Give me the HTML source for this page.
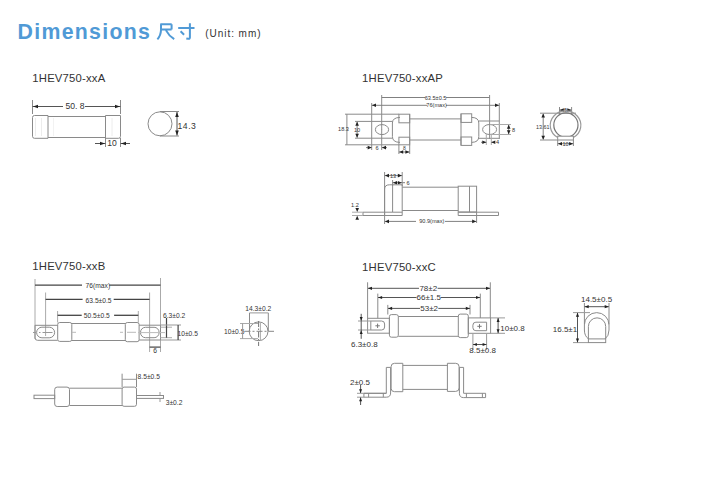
<!DOCTYPE html>
<html><head><meta charset="utf-8"><style>
html,body{margin:0;padding:0;background:#fff;width:723px;height:495px;overflow:hidden}
svg{display:block}
text{font-family:"Liberation Sans",sans-serif}
</style></head><body>
<svg width="723" height="495" viewBox="0 0 723 495">
<text x="17.5" y="39" font-size="21.3" fill="#509ad6" text-anchor="start" font-weight="bold" letter-spacing="1.3">Dimensions</text>
<text x="205.3" y="36.6" font-size="10" fill="#333" text-anchor="start" letter-spacing="0.95">(Unit: mm)</text>
<text x="32.3" y="81.8" font-size="11.3" fill="#333" text-anchor="start" letter-spacing="0.2">1HEV750-xxA</text>
<text x="362.1" y="82.1" font-size="11.3" fill="#333" text-anchor="start" letter-spacing="0.2">1HEV750-xxAP</text>
<text x="32.3" y="269.8" font-size="11.3" fill="#333" text-anchor="start" letter-spacing="0.2">1HEV750-xxB</text>
<text x="362.1" y="270.8" font-size="11.3" fill="#333" text-anchor="start" letter-spacing="0.2">1HEV750-xxC</text>
<path d="M160.3 24.3 H171.7 M161 24.3 V30 Q160.8 35.5 157.4 39.3 M171.6 24.3 V29.4 M161 29.4 H171.6 M166 30.4 Q169 36 174.2 39.2" stroke="#509ad6" stroke-width="2" fill="none"/>
<path d="M178.2 28 H194.5 M189.9 23.2 V37.6 Q189.9 39 188.2 38.8 L186.3 38.4 M180.6 31.2 L184.1 34.7" stroke="#509ad6" stroke-width="2" fill="none"/>
<line x1="32.5" y1="100" x2="32.5" y2="114" stroke="#8a8a8a" stroke-width="1"/>
<line x1="120.5" y1="100" x2="120.5" y2="114" stroke="#8a8a8a" stroke-width="1"/>
<line x1="32.5" y1="106.5" x2="63" y2="106.5" stroke="#555" stroke-width="1"/>
<line x1="85" y1="106.5" x2="120.5" y2="106.5" stroke="#555" stroke-width="1"/>
<polygon points="33.00,106.50 38.00,104.70 38.00,108.30" fill="#222"/>
<polygon points="120.00,106.50 115.00,104.70 115.00,108.30" fill="#222"/>
<text x="65.5" y="109.2" font-size="8.6" fill="#333" text-anchor="start" >50. 8</text>
<path d="M48 115.5 H34.5 Q32.5 115.5 32.5 117.5 V136.3 Q32.5 138.3 34.5 138.3 H48 Z" stroke="#8a8a8a" stroke-width="1" fill="none"/>
<line x1="48" y1="116.5" x2="105.5" y2="116.5" stroke="#8a8a8a" stroke-width="1"/>
<line x1="48" y1="137.5" x2="105.5" y2="137.5" stroke="#8a8a8a" stroke-width="1"/>
<path d="M105.5 115.5 H120.5 V136.3 Q120.5 138.3 118.5 138.3 H105.5 Z" stroke="#8a8a8a" stroke-width="1" fill="none"/>
<line x1="35.5" y1="118" x2="35.5" y2="136" stroke="#ececec" stroke-width="1"/>
<line x1="41.5" y1="118" x2="41.5" y2="136" stroke="#ececec" stroke-width="1"/>
<line x1="53.5" y1="118" x2="53.5" y2="136" stroke="#f2f2f2" stroke-width="1"/>
<line x1="112" y1="118" x2="112" y2="136" stroke="#ececec" stroke-width="1"/>
<line x1="105.5" y1="138" x2="105.5" y2="147" stroke="#8a8a8a" stroke-width="1"/>
<line x1="120.5" y1="138" x2="120.5" y2="147" stroke="#8a8a8a" stroke-width="1"/>
<line x1="95" y1="143.5" x2="105.5" y2="143.5" stroke="#555" stroke-width="1"/>
<line x1="120.5" y1="143.5" x2="130" y2="143.5" stroke="#555" stroke-width="1"/>
<polygon points="105.00,143.50 100.00,141.70 100.00,145.30" fill="#222"/>
<polygon points="121.00,143.50 126.00,141.70 126.00,145.30" fill="#222"/>
<text x="107.3" y="146.2" font-size="8.6" fill="#333" text-anchor="start" >10</text>
<circle cx="160" cy="123.8" r="12" stroke="#8a8a8a" stroke-width="1" fill="none"/>
<line x1="160" y1="111.5" x2="179" y2="111.5" stroke="#8a8a8a" stroke-width="1"/>
<line x1="160" y1="136" x2="179" y2="136" stroke="#8a8a8a" stroke-width="1"/>
<line x1="177" y1="112" x2="177" y2="135.5" stroke="#555" stroke-width="1"/>
<polygon points="177.00,112.00 175.20,117.00 178.80,117.00" fill="#222"/>
<polygon points="177.00,135.50 175.20,130.50 178.80,130.50" fill="#222"/>
<text x="177.6" y="129" font-size="8.6" fill="#333" text-anchor="start" letter-spacing="0.5">14.3</text>
<line x1="381.7" y1="95" x2="381.7" y2="130" stroke="#8a8a8a" stroke-width="1"/>
<line x1="489.6" y1="95" x2="489.6" y2="130" stroke="#8a8a8a" stroke-width="1"/>
<line x1="381.7" y1="97.5" x2="425" y2="97.5" stroke="#808080" stroke-width="1"/>
<line x1="446" y1="97.5" x2="489.6" y2="97.5" stroke="#808080" stroke-width="1"/>
<text x="435.6" y="99.6" font-size="5.6" fill="#333" text-anchor="middle" >63.5±0.5</text>
<line x1="371.7" y1="103" x2="371.7" y2="150" stroke="#8a8a8a" stroke-width="1"/>
<line x1="499.3" y1="103" x2="499.3" y2="139" stroke="#8a8a8a" stroke-width="1"/>
<line x1="371.7" y1="105.3" x2="427" y2="105.3" stroke="#808080" stroke-width="1"/>
<line x1="446" y1="105.3" x2="499.3" y2="105.3" stroke="#808080" stroke-width="1"/>
<polygon points="372.00,105.30 376.00,103.50 376.00,107.10" fill="#222"/>
<polygon points="499.00,105.30 495.00,103.50 495.00,107.10" fill="#222"/>
<text x="436.6" y="107.4" font-size="5.6" fill="#333" text-anchor="middle" >76(max)</text>
<line x1="345" y1="114.2" x2="398.9" y2="114.2" stroke="#8a8a8a" stroke-width="1"/>
<line x1="345" y1="144.8" x2="398.9" y2="144.8" stroke="#8a8a8a" stroke-width="1"/>
<line x1="346.9" y1="114.2" x2="346.9" y2="144.8" stroke="#8a8a8a" stroke-width="1"/>
<text x="343.5" y="130.8" font-size="5.6" fill="#333" text-anchor="middle" >18.3</text>
<line x1="355" y1="121.4" x2="392.4" y2="121.4" stroke="#8a8a8a" stroke-width="1"/>
<line x1="355" y1="138.2" x2="392.4" y2="138.2" stroke="#8a8a8a" stroke-width="1"/>
<line x1="357.1" y1="122" x2="357.1" y2="137.6" stroke="#808080" stroke-width="1"/>
<polygon points="357.10,121.80 355.30,125.80 358.90,125.80" fill="#222"/>
<polygon points="357.10,137.80 355.30,133.80 358.90,133.80" fill="#222"/>
<text x="357" y="132" font-size="5.6" fill="#333" text-anchor="middle" >10</text>
<ellipse cx="382" cy="129.6" rx="6.6" ry="5" stroke="#8a8a8a" stroke-width="1" fill="none"/>
<line x1="381.7" y1="129.6" x2="381.7" y2="150" stroke="#8a8a8a" stroke-width="1"/>
<path d="M400 117.4 Q392.4 117.6 392.4 123 V136.5 Q392.4 142.3 400 142.4" stroke="#8a8a8a" stroke-width="1" fill="none"/>
<rect x="398.9" y="114.2" width="10.8" height="8.6" rx="0" stroke="#8a8a8a" stroke-width="1" fill="none"/>
<rect x="398.9" y="137.2" width="10.8" height="7.6" rx="0" stroke="#8a8a8a" stroke-width="1" fill="none"/>
<line x1="409.7" y1="118.9" x2="461" y2="118.9" stroke="#8a8a8a" stroke-width="1"/>
<line x1="409.7" y1="140" x2="461" y2="140" stroke="#8a8a8a" stroke-width="1"/>
<line x1="409.7" y1="114.2" x2="409.7" y2="144.8" stroke="#8a8a8a" stroke-width="1"/>
<line x1="461" y1="113.8" x2="461" y2="145.2" stroke="#8a8a8a" stroke-width="1"/>
<rect x="461" y="113.8" width="10.7" height="8.6" rx="0" stroke="#8a8a8a" stroke-width="1" fill="none"/>
<rect x="461" y="137" width="10.7" height="8.4" rx="0" stroke="#8a8a8a" stroke-width="1" fill="none"/>
<path d="M471.7 117.4 Q478.8 117.6 478.8 123 V136.5 Q478.8 142.3 471.7 142.4" stroke="#8a8a8a" stroke-width="1" fill="none"/>
<line x1="478.8" y1="121" x2="499.3" y2="121" stroke="#8a8a8a" stroke-width="1"/>
<line x1="478.8" y1="138.3" x2="499.3" y2="138.3" stroke="#8a8a8a" stroke-width="1"/>
<ellipse cx="489.6" cy="129.5" rx="7" ry="5" stroke="#8a8a8a" stroke-width="1" fill="none"/>
<line x1="489.6" y1="129.5" x2="489.6" y2="139" stroke="#8a8a8a" stroke-width="1"/>
<line x1="490" y1="124.5" x2="511" y2="124.5" stroke="#aaa" stroke-width="1"/>
<line x1="490" y1="134.5" x2="511" y2="134.5" stroke="#aaa" stroke-width="1"/>
<line x1="508.7" y1="125" x2="508.7" y2="134" stroke="#808080" stroke-width="1"/>
<polygon points="508.70,124.80 506.90,128.80 510.50,128.80" fill="#222"/>
<polygon points="508.70,134.20 506.90,130.20 510.50,130.20" fill="#222"/>
<text x="513.5" y="131.5" font-size="5.6" fill="#333" text-anchor="middle" >8</text>
<line x1="486.3" y1="134" x2="486.3" y2="145" stroke="#aaa" stroke-width="1"/>
<line x1="491.3" y1="134" x2="491.3" y2="145" stroke="#aaa" stroke-width="1"/>
<line x1="481" y1="142.3" x2="486.3" y2="142.3" stroke="#808080" stroke-width="1"/>
<line x1="491.3" y1="142.3" x2="495" y2="142.3" stroke="#808080" stroke-width="1"/>
<polygon points="486.30,142.30 482.30,140.50 482.30,144.10" fill="#222"/>
<polygon points="491.30,142.30 495.30,140.50 495.30,144.10" fill="#222"/>
<text x="497.5" y="144.3" font-size="5.6" fill="#333" text-anchor="middle" >4</text>
<line x1="366" y1="147.6" x2="371.7" y2="147.6" stroke="#808080" stroke-width="1"/>
<line x1="382" y1="147.6" x2="387" y2="147.6" stroke="#808080" stroke-width="1"/>
<polygon points="371.70,147.60 367.70,145.80 367.70,149.40" fill="#222"/>
<polygon points="382.00,147.60 386.00,145.80 386.00,149.40" fill="#222"/>
<text x="377" y="149.6" font-size="5.6" fill="#333" text-anchor="middle" >6</text>
<line x1="398.9" y1="145" x2="398.9" y2="154" stroke="#8a8a8a" stroke-width="1"/>
<line x1="409.7" y1="145" x2="409.7" y2="154" stroke="#8a8a8a" stroke-width="1"/>
<line x1="398.9" y1="152" x2="409.7" y2="152" stroke="#808080" stroke-width="1"/>
<polygon points="399.20,152.00 403.20,150.20 403.20,153.80" fill="#222"/>
<polygon points="409.40,152.00 405.40,150.20 405.40,153.80" fill="#222"/>
<text x="404.3" y="150.3" font-size="5" fill="#333" text-anchor="middle" >8</text>
<line x1="540" y1="113.2" x2="576" y2="113.2" stroke="#8a8a8a" stroke-width="1"/>
<line x1="540" y1="140" x2="557.7" y2="140" stroke="#8a8a8a" stroke-width="1"/>
<line x1="543.2" y1="114" x2="543.2" y2="139.2" stroke="#808080" stroke-width="1"/>
<polygon points="543.20,113.50 541.40,117.50 545.00,117.50" fill="#222"/>
<polygon points="543.20,139.70 541.40,135.70 545.00,135.70" fill="#222"/>
<text x="542.8" y="128.6" font-size="5.4" fill="#333" text-anchor="middle" >13.61</text>
<line x1="559.5" y1="107" x2="559.5" y2="114" stroke="#8a8a8a" stroke-width="1"/>
<line x1="571.6" y1="107" x2="571.6" y2="114" stroke="#8a8a8a" stroke-width="1"/>
<line x1="559.5" y1="110.1" x2="571.6" y2="110.1" stroke="#808080" stroke-width="1"/>
<polygon points="559.80,110.10 563.80,108.30 563.80,111.90" fill="#222"/>
<polygon points="571.30,110.10 567.30,108.30 567.30,111.90" fill="#222"/>
<text x="565.5" y="112.2" font-size="5.6" fill="#333" text-anchor="middle" >5</text>
<path d="M557.7 137.5 A15.3 14.3 0 1 1 573.4 137.5" stroke="#999" stroke-width="1.2" fill="none"/>
<circle cx="565.9" cy="125" r="12.1" stroke="#777" stroke-width="1.2" fill="none"/>
<rect x="557.7" y="136.2" width="15.7" height="3.8" rx="0" stroke="#8a8a8a" stroke-width="1" fill="#fff"/>
<line x1="557.7" y1="140" x2="557.7" y2="146" stroke="#8a8a8a" stroke-width="1"/>
<line x1="573.4" y1="140" x2="573.4" y2="146" stroke="#8a8a8a" stroke-width="1"/>
<line x1="557.7" y1="143.7" x2="573.4" y2="143.7" stroke="#808080" stroke-width="1"/>
<polygon points="558.00,143.70 562.00,141.90 562.00,145.50" fill="#222"/>
<polygon points="573.10,143.70 569.10,141.90 569.10,145.50" fill="#222"/>
<text x="565.5" y="145.8" font-size="5.6" fill="#333" text-anchor="middle" >10</text>
<line x1="384.6" y1="172" x2="384.6" y2="224" stroke="#8a8a8a" stroke-width="1"/>
<line x1="402.2" y1="172" x2="402.2" y2="186" stroke="#8a8a8a" stroke-width="1"/>
<line x1="392.6" y1="180" x2="392.6" y2="186" stroke="#8a8a8a" stroke-width="1"/>
<line x1="384.6" y1="175.6" x2="402.2" y2="175.6" stroke="#808080" stroke-width="1"/>
<polygon points="385.00,175.60 389.00,173.80 389.00,177.40" fill="#222"/>
<polygon points="401.80,175.60 397.80,173.80 397.80,177.40" fill="#222"/>
<text x="393" y="177.8" font-size="5.6" fill="#333" text-anchor="middle" >13</text>
<line x1="392.6" y1="182.7" x2="402.2" y2="182.7" stroke="#808080" stroke-width="1"/>
<polygon points="393.00,182.70 397.00,180.90 397.00,184.50" fill="#222"/>
<polygon points="401.80,182.70 397.80,180.90 397.80,184.50" fill="#222"/>
<line x1="402.2" y1="182.7" x2="405" y2="182.7" stroke="#808080" stroke-width="1"/>
<text x="408" y="184.8" font-size="5.6" fill="#333" text-anchor="middle" >6</text>
<path d="M384.6 215.5 V189 Q384.6 184.8 389.5 184.8 H402.2 V215.5" stroke="#8a8a8a" stroke-width="1" fill="none"/>
<line x1="392.6" y1="184.8" x2="392.6" y2="212" stroke="#8a8a8a" stroke-width="1"/>
<line x1="402.2" y1="187.2" x2="458.2" y2="187.2" stroke="#8a8a8a" stroke-width="1"/>
<line x1="402.2" y1="210.5" x2="458.2" y2="210.5" stroke="#8a8a8a" stroke-width="1"/>
<rect x="458.2" y="186.2" width="18.4" height="25.8" rx="0" stroke="#8a8a8a" stroke-width="1" fill="none"/>
<line x1="469.5" y1="186.2" x2="469.5" y2="212" stroke="#8a8a8a" stroke-width="1"/>
<path d="M363 212.2 H402.2 M363 215.5 H402.2 M363 212.2 V215.5" stroke="#8a8a8a" stroke-width="1" fill="none"/>
<path d="M458.2 212.2 H498.5 V215.5 H458.2 Z" stroke="#8a8a8a" stroke-width="1" fill="none"/>
<line x1="476.6" y1="212" x2="476.6" y2="223" stroke="#8a8a8a" stroke-width="1"/>
<line x1="352" y1="212.2" x2="363" y2="212.2" stroke="#aaa" stroke-width="1"/>
<line x1="352" y1="215.5" x2="363" y2="215.5" stroke="#aaa" stroke-width="1"/>
<polygon points="357.20,211.90 355.40,207.90 359.00,207.90" fill="#222"/>
<polygon points="357.20,215.80 355.40,219.80 359.00,219.80" fill="#222"/>
<text x="355" y="206.7" font-size="5.6" fill="#333" text-anchor="middle" >1.2</text>
<line x1="384.6" y1="221.4" x2="416" y2="221.4" stroke="#808080" stroke-width="1"/>
<line x1="445" y1="221.4" x2="476.6" y2="221.4" stroke="#808080" stroke-width="1"/>
<polygon points="385.00,221.40 389.00,219.60 389.00,223.20" fill="#222"/>
<polygon points="476.20,221.40 472.20,219.60 472.20,223.20" fill="#222"/>
<text x="431.8" y="223.4" font-size="5.6" fill="#333" text-anchor="middle" >90.9(max)</text>
<line x1="35" y1="279" x2="35" y2="339" stroke="#aaa" stroke-width="1"/>
<line x1="160.5" y1="278" x2="160.5" y2="352" stroke="#aaa" stroke-width="1"/>
<line x1="35" y1="285.2" x2="82" y2="285.2" stroke="#444" stroke-width="1.3"/>
<line x1="109.3" y1="285.2" x2="160.5" y2="285.2" stroke="#444" stroke-width="1.3"/>
<text x="85.6" y="287.8" font-size="6.7" fill="#333" text-anchor="start" >76(max)</text>
<line x1="45.6" y1="292.5" x2="45.6" y2="336" stroke="#aaa" stroke-width="1"/>
<line x1="149.6" y1="292.5" x2="149.6" y2="352" stroke="#aaa" stroke-width="1"/>
<line x1="45.6" y1="299.3" x2="82.6" y2="299.3" stroke="#444" stroke-width="1.3"/>
<line x1="113.7" y1="299.3" x2="149.6" y2="299.3" stroke="#444" stroke-width="1.3"/>
<text x="85.6" y="302.9" font-size="6.7" fill="#333" text-anchor="start" >63.5±0.5</text>
<line x1="57.6" y1="311" x2="57.6" y2="322.5" stroke="#aaa" stroke-width="1"/>
<line x1="138.3" y1="311" x2="138.3" y2="322.5" stroke="#aaa" stroke-width="1"/>
<line x1="57.6" y1="315.3" x2="81.7" y2="315.3" stroke="#444" stroke-width="1.3"/>
<line x1="114.1" y1="315.3" x2="138.3" y2="315.3" stroke="#444" stroke-width="1.3"/>
<text x="83.8" y="318" font-size="6.7" fill="#333" text-anchor="start" >50.5±0.5</text>
<path d="M57.6 325.3 H35 V337.8 Q35 340.3 37.5 340.3 H57.6" stroke="#8a8a8a" stroke-width="1" fill="none"/>
<rect x="36.6" y="327.2" width="18" height="10.6" rx="5.3" stroke="#8a8a8a" stroke-width="1" fill="none"/>
<line x1="33" y1="332.5" x2="54" y2="332.5" stroke="#999" stroke-dasharray="3 3 1.5 2 10 2"/>
<rect x="57.7" y="322.5" width="14.1" height="18.9" rx="2" stroke="#8a8a8a" stroke-width="1" fill="none"/>
<line x1="71.8" y1="323.5" x2="125.3" y2="323.5" stroke="#8a8a8a" stroke-width="1"/>
<line x1="71.8" y1="340.5" x2="125.3" y2="340.5" stroke="#8a8a8a" stroke-width="1"/>
<rect x="125.3" y="322.5" width="13.8" height="19.2" rx="2" stroke="#8a8a8a" stroke-width="1" fill="none"/>
<line x1="72" y1="332.3" x2="76" y2="332.3" stroke="#bbb" stroke-width="1"/>
<line x1="120" y1="332.3" x2="123" y2="332.3" stroke="#bbb" stroke-width="1"/>
<line x1="127" y1="332.3" x2="136" y2="332.3" stroke="#bbb" stroke-width="1"/>
<path d="M139.1 325.2 H160.5 V340 H139.1" stroke="#8a8a8a" stroke-width="1" fill="none"/>
<rect x="140.5" y="327.3" width="18.6" height="10.4" rx="5" stroke="#8a8a8a" stroke-width="1" fill="none"/>
<line x1="138" y1="332.6" x2="165" y2="332.6" stroke="#bbb" stroke-width="1"/>
<line x1="160.5" y1="327.2" x2="172" y2="327.2" stroke="#aaa" stroke-width="1"/>
<line x1="160.5" y1="337.7" x2="172" y2="337.7" stroke="#aaa" stroke-width="1"/>
<line x1="166.5" y1="318" x2="166.5" y2="337.7" stroke="#444" stroke-width="1.2"/>
<text x="163" y="318" font-size="6.7" fill="#333" text-anchor="start" >6.3±0.2</text>
<line x1="160.5" y1="325" x2="181" y2="325" stroke="#999" stroke-width="1"/>
<line x1="160.5" y1="340" x2="181" y2="340" stroke="#999" stroke-width="1"/>
<line x1="178.1" y1="325" x2="178.1" y2="340" stroke="#444" stroke-width="1.2"/>
<text x="177.5" y="335.5" font-size="6.7" fill="#333" text-anchor="start" >10±0.5</text>
<line x1="149.6" y1="347.1" x2="160.5" y2="347.1" stroke="#444" stroke-width="1.2"/>
<text x="155" y="352.5" font-size="6.7" fill="#333" text-anchor="middle" >6</text>
<text x="245.3" y="311" font-size="6.7" fill="#333" text-anchor="start" >14.3±0.2</text>
<line x1="249.5" y1="312.9" x2="268.3" y2="312.9" stroke="#999" stroke-width="1"/>
<line x1="249.5" y1="312.9" x2="249.5" y2="331.3" stroke="#8a8a8a" stroke-width="1"/>
<line x1="268.3" y1="312.9" x2="268.3" y2="331.3" stroke="#8a8a8a" stroke-width="1"/>
<circle cx="258.6" cy="331.3" r="9.4" stroke="#888" stroke-width="1" fill="none"/>
<line x1="258.6" y1="321" x2="258.6" y2="346" stroke="#777" stroke-dasharray="6 1.5 1.5 1.5"/>
<line x1="260.4" y1="322" x2="260.4" y2="341" stroke="#aaa" stroke-width="1"/>
<line x1="244.5" y1="331.3" x2="274" y2="331.3" stroke="#888" stroke-dasharray="6 2 2 2"/>
<text x="224" y="333.8" font-size="6.7" fill="#333" text-anchor="start" >10±0.5</text>
<line x1="240" y1="323.5" x2="258" y2="323.5" stroke="#aaa" stroke-width="1"/>
<line x1="240" y1="338.6" x2="258" y2="338.6" stroke="#aaa" stroke-width="1"/>
<line x1="242.6" y1="323.5" x2="242.6" y2="338.6" stroke="#999" stroke-width="1"/>
<rect x="34" y="395.2" width="20.7" height="3.4" rx="0" stroke="#8a8a8a" stroke-width="1" fill="none"/>
<rect x="54.7" y="387.1" width="14.8" height="19.4" rx="2.5" stroke="#8a8a8a" stroke-width="1" fill="none"/>
<line x1="69.5" y1="388.2" x2="122.2" y2="388.2" stroke="#8a8a8a" stroke-width="1"/>
<line x1="69.5" y1="405.5" x2="122.2" y2="405.5" stroke="#8a8a8a" stroke-width="1"/>
<rect x="122.1" y="387.1" width="14.4" height="19.2" rx="2" stroke="#8a8a8a" stroke-width="1" fill="none"/>
<rect x="136.5" y="395.5" width="27" height="2.9" rx="0" stroke="#8a8a8a" stroke-width="1" fill="none"/>
<line x1="122.1" y1="373.7" x2="122.1" y2="387" stroke="#8a8a8a" stroke-width="1"/>
<line x1="136.5" y1="373.7" x2="136.5" y2="387" stroke="#8a8a8a" stroke-width="1"/>
<line x1="122.1" y1="379.3" x2="136.5" y2="379.3" stroke="#999" stroke-width="1"/>
<text x="137.6" y="378.6" font-size="6.7" fill="#333" text-anchor="start" >8.5±0.5</text>
<line x1="160" y1="392" x2="160" y2="395" stroke="#999" stroke-width="1"/>
<line x1="160" y1="399" x2="160" y2="402" stroke="#999" stroke-width="1"/>
<text x="165.7" y="404.5" font-size="6.7" fill="#333" text-anchor="start" >3±0.2</text>
<line x1="367.6" y1="282.3" x2="367.6" y2="318.3" stroke="#8a8a8a" stroke-width="1"/>
<line x1="490.3" y1="282.3" x2="490.3" y2="318" stroke="#8a8a8a" stroke-width="1"/>
<line x1="368" y1="288.3" x2="419" y2="288.3" stroke="#555" stroke-width="1"/>
<line x1="437.6" y1="288.3" x2="490" y2="288.3" stroke="#555" stroke-width="1"/>
<polygon points="368.00,288.30 372.00,286.70 372.00,289.90" fill="#222"/>
<polygon points="490.00,288.30 486.00,286.70 486.00,289.90" fill="#222"/>
<text x="428.3" y="291" font-size="8" fill="#333" text-anchor="middle" >78±2</text>
<line x1="377.8" y1="293.6" x2="377.8" y2="318.3" stroke="#8a8a8a" stroke-width="1"/>
<line x1="480.3" y1="293.6" x2="480.3" y2="318" stroke="#8a8a8a" stroke-width="1"/>
<line x1="378" y1="297.5" x2="416.5" y2="297.5" stroke="#555" stroke-width="1"/>
<line x1="441" y1="297.5" x2="480" y2="297.5" stroke="#555" stroke-width="1"/>
<polygon points="378.10,297.50 382.10,295.90 382.10,299.10" fill="#222"/>
<polygon points="480.00,297.50 476.00,295.90 476.00,299.10" fill="#222"/>
<text x="428.8" y="300.2" font-size="8" fill="#333" text-anchor="middle" >66±1.5</text>
<line x1="387.8" y1="304.9" x2="387.8" y2="314.5" stroke="#8a8a8a" stroke-width="1"/>
<line x1="470" y1="304.9" x2="470" y2="314.5" stroke="#8a8a8a" stroke-width="1"/>
<line x1="388" y1="308.4" x2="420" y2="308.4" stroke="#555" stroke-width="1"/>
<line x1="438.3" y1="308.4" x2="470" y2="308.4" stroke="#555" stroke-width="1"/>
<polygon points="388.10,308.40 392.10,306.80 392.10,310.00" fill="#222"/>
<polygon points="469.80,308.40 465.80,306.80 465.80,310.00" fill="#222"/>
<text x="429.2" y="311.1" font-size="8" fill="#333" text-anchor="middle" >53±2</text>
<rect x="367.6" y="318.3" width="21.8" height="14.9" rx="0" stroke="#8a8a8a" stroke-width="1" fill="none"/>
<path d="M370.8 321 H381.6 Q384.6 321 384.6 324 V327 Q384.6 330 381.6 330 H370.8 Z" stroke="#8a8a8a" stroke-width="1" fill="none"/>
<path d="M375.4 325.8 H379.8 M377.6 323.6 V328" stroke="#777" stroke-width="1" fill="none"/>
<rect x="389.4" y="314.6" width="8.9" height="22.6" rx="2" stroke="#8a8a8a" stroke-width="1" fill="none"/>
<line x1="398.3" y1="316.5" x2="458.3" y2="316.5" stroke="#8a8a8a" stroke-width="1"/>
<line x1="398.3" y1="336.3" x2="458.3" y2="336.3" stroke="#8a8a8a" stroke-width="1"/>
<rect x="458.3" y="314.1" width="10" height="23.5" rx="2" stroke="#8a8a8a" stroke-width="1" fill="none"/>
<rect x="468.3" y="317.9" width="22.3" height="15.4" rx="0" stroke="#8a8a8a" stroke-width="1" fill="none"/>
<path d="M486.6 322.2 H475.9 Q472.9 322.2 472.9 325.2 V327.7 Q472.9 330.7 475.9 330.7 H486.6 Z" stroke="#8a8a8a" stroke-width="1" fill="none"/>
<path d="M477.3 326.3 H481.7 M479.5 324.1 V328.5" stroke="#777" stroke-width="1" fill="none"/>
<line x1="358" y1="321" x2="371" y2="321" stroke="#999" stroke-width="1"/>
<line x1="358" y1="330" x2="371" y2="330" stroke="#999" stroke-width="1"/>
<line x1="361.2" y1="313.8" x2="361.2" y2="338.8" stroke="#555" stroke-width="1"/>
<polygon points="361.20,320.80 359.70,317.00 362.70,317.00" fill="#222"/>
<polygon points="361.20,330.20 359.70,334.00 362.70,334.00" fill="#222"/>
<text x="351" y="346.5" font-size="8" fill="#333" text-anchor="start" >6.3±0.8</text>
<line x1="490.5" y1="317.9" x2="505" y2="317.9" stroke="#999" stroke-width="1"/>
<line x1="490.5" y1="333.3" x2="505" y2="333.3" stroke="#999" stroke-width="1"/>
<line x1="498.1" y1="318" x2="498.1" y2="333.2" stroke="#555" stroke-width="1"/>
<polygon points="498.10,318.10 496.60,321.90 499.60,321.90" fill="#222"/>
<polygon points="498.10,333.10 496.60,329.30 499.60,329.30" fill="#222"/>
<text x="500.3" y="331.3" font-size="8" fill="#333" text-anchor="start" >10±0.8</text>
<line x1="472.9" y1="334" x2="472.9" y2="350" stroke="#999" stroke-width="1"/>
<line x1="486.6" y1="334" x2="486.6" y2="350" stroke="#999" stroke-width="1"/>
<line x1="473" y1="344.5" x2="486.5" y2="344.5" stroke="#555" stroke-width="1"/>
<polygon points="473.10,344.50 476.90,343.00 476.90,346.00" fill="#222"/>
<polygon points="486.40,344.50 482.60,343.00 482.60,346.00" fill="#222"/>
<text x="469.3" y="353.3" font-size="8" fill="#333" text-anchor="start" >8.5±0.8</text>
<text x="581" y="302" font-size="8" fill="#333" text-anchor="start" >14.5±0.5</text>
<line x1="584.4" y1="303" x2="584.4" y2="324.4" stroke="#8a8a8a" stroke-width="1"/>
<line x1="609" y1="303" x2="609" y2="324.4" stroke="#8a8a8a" stroke-width="1"/>
<line x1="584.6" y1="306.7" x2="608.8" y2="306.7" stroke="#555" stroke-width="1"/>
<polygon points="584.70,306.70 588.70,305.10 588.70,308.30" fill="#222"/>
<polygon points="608.70,306.70 604.70,305.10 604.70,308.30" fill="#222"/>
<path d="M588.6 339 Q584.4 336 584.4 330 V324.9 A12.3 12.3 0 0 1 609 324.9 V330 Q609 336 605 339" stroke="#8a8a8a" stroke-width="1" fill="none"/>
<path d="M588.4 339 V326.5 A8.65 8.65 0 0 1 605.7 326.5 V339" stroke="#8a8a8a" stroke-width="1" fill="none"/>
<rect x="588.4" y="338.9" width="17.3" height="3.7" rx="0" stroke="#8a8a8a" stroke-width="1" fill="none"/>
<line x1="573" y1="312.6" x2="590" y2="312.6" stroke="#999" stroke-width="1"/>
<line x1="573" y1="342.6" x2="588" y2="342.6" stroke="#999" stroke-width="1"/>
<line x1="577.5" y1="313" x2="577.5" y2="342.3" stroke="#555" stroke-width="1"/>
<polygon points="577.50,312.80 575.90,316.80 579.10,316.80" fill="#222"/>
<polygon points="577.50,342.40 575.90,338.40 579.10,338.40" fill="#222"/>
<text x="552.8" y="331.8" font-size="8" fill="#333" text-anchor="start" >16.5±1</text>
<path d="M386.3 393.3 V367.4 H390.6 V393 Q390.6 397.2 386.3 397.2 H363.9 V393.3 Z" stroke="#8a8a8a" stroke-width="1" fill="none"/>
<path d="M386.3 393.3 H363.9" stroke="#8a8a8a" stroke-width="1" fill="none"/>
<line x1="368.6" y1="393.3" x2="368.6" y2="397.2" stroke="#8a8a8a" stroke-width="1"/>
<line x1="383.3" y1="393.3" x2="383.3" y2="397.2" stroke="#8a8a8a" stroke-width="1"/>
<path d="M402.8 363.3 H394.5 Q391.1 363.3 391.1 366.7 V388.3 Q391.1 391.7 394.5 391.7 H402.8 Z" stroke="#8a8a8a" stroke-width="1" fill="none"/>
<line x1="402.8" y1="365.4" x2="447.4" y2="365.4" stroke="#8a8a8a" stroke-width="1"/>
<line x1="402.8" y1="389.4" x2="447.4" y2="389.4" stroke="#8a8a8a" stroke-width="1"/>
<path d="M447.4 363.3 H455.7 Q459.1 363.3 459.1 366.7 V388 Q459.1 391.4 455.7 391.4 H447.4 Z" stroke="#8a8a8a" stroke-width="1" fill="none"/>
<path d="M463.6 393.3 V367.4 H459.4 V393.3 Q459.4 397.6 463.6 397.6 H485.6 V393.3 Z" stroke="#8a8a8a" stroke-width="1" fill="none"/>
<line x1="466.4" y1="393.3" x2="466.4" y2="397.6" stroke="#8a8a8a" stroke-width="1"/>
<line x1="482.4" y1="393.3" x2="482.4" y2="397.6" stroke="#8a8a8a" stroke-width="1"/>
<text x="350" y="384.5" font-size="8" fill="#333" text-anchor="start" >2±0.5</text>
<line x1="357" y1="393.3" x2="364" y2="393.3" stroke="#999" stroke-width="1"/>
<line x1="357" y1="397.2" x2="364" y2="397.2" stroke="#999" stroke-width="1"/>
<line x1="360.6" y1="385" x2="360.6" y2="393" stroke="#555" stroke-width="1"/>
<line x1="360.6" y1="397.5" x2="360.6" y2="405" stroke="#555" stroke-width="1"/>
<polygon points="360.60,393.10 359.10,389.30 362.10,389.30" fill="#222"/>
<polygon points="360.60,397.40 359.10,401.20 362.10,401.20" fill="#222"/>
</svg>
</body></html>
